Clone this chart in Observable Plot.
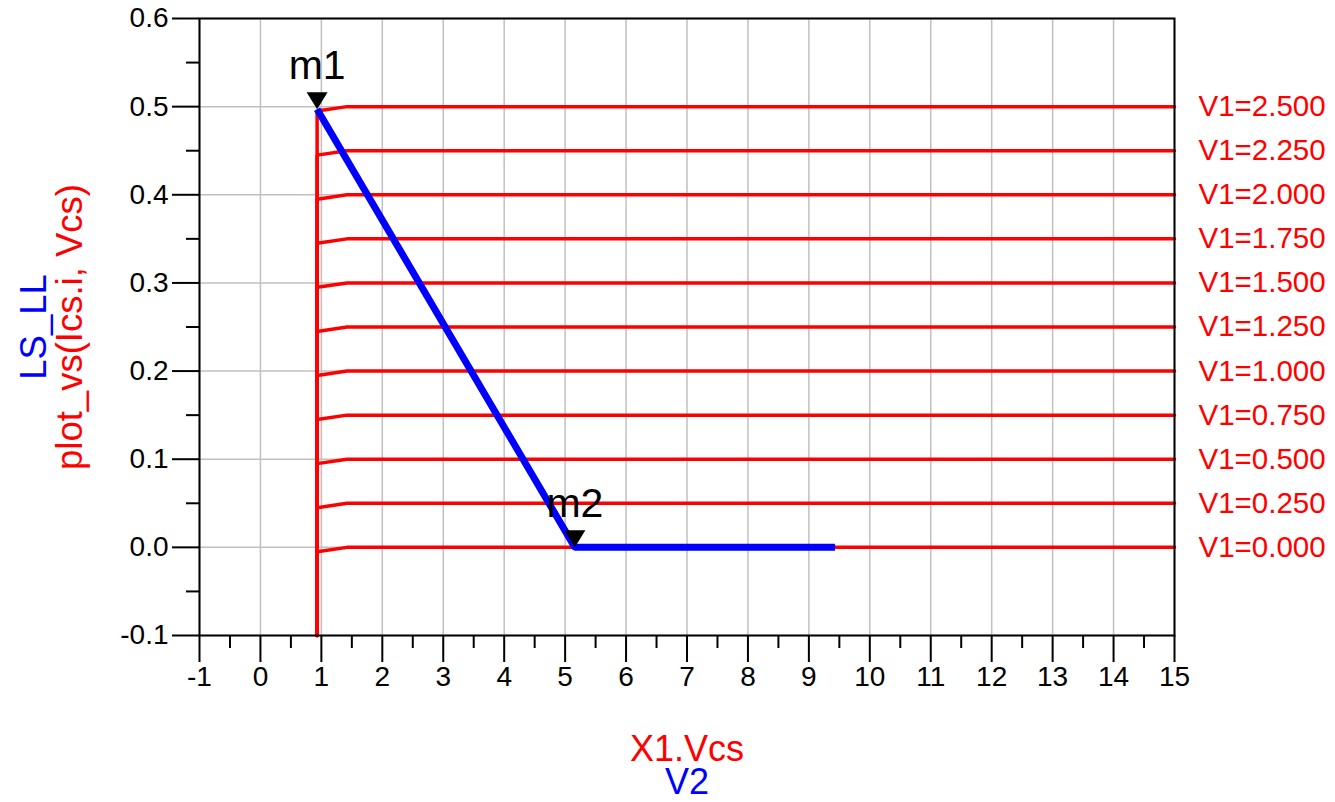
<!DOCTYPE html>
<html><head><meta charset="utf-8">
<script src="https://cdn.jsdelivr.net/npm/d3@7"></script>
<script src="https://cdn.jsdelivr.net/npm/@observablehq/plot@0.6"></script>
<style>body{margin:0;background:#fff;}</style>
</head><body><div id="chart"></div>
<script>
// ---- data ----
const v1Labels = ["V1=0.000","V1=0.250","V1=0.500","V1=0.750","V1=1.000","V1=1.250","V1=1.500","V1=1.750","V1=2.000","V1=2.250","V1=2.500"];
const icsLevels = [0, 0.05, 0.10, 0.15, 0.20, 0.25, 0.30, 0.35, 0.40, 0.45, 0.50];
const sweepVcs = [0.93, 0.93, 1.42, 15];          // X1.Vcs points of each sweep curve
const sweepIcsFloor = -0.1;                        // curve starts at bottom
const sweepKneeDip = [0, -0.005, 0, 0];            // small dip before knee
const loadVcs = [0.93, 5.16, 9.43];
const loadIcs = [0.497, 0.0, 0.0];
const markerNames = ["m1", "m2"];
const markerVcs = [0.93, 5.16];
const markerIcs = [0.497, 0.0];
const xTicks = [-1,0,1,2,3,4,5,6,7,8,9,10,11,12,13,14,15];
const xMinorTicks = [-0.5,0.5,1.5,2.5,3.5,4.5,5.5,6.5,7.5,8.5,9.5,10.5,11.5,12.5,13.5,14.5];
const yTicks = [-0.1,0,0.1,0.2,0.3,0.4,0.5,0.6];
const yMinorTicks = [-0.05,0.05,0.15,0.25,0.35,0.45,0.55];
const xTitle1 = "X1.Vcs", xTitle2 = "V2";
const yTitle1 = "LS_LL", yTitle2 = "plot_vs(Ics.i, Vcs)";

// ---- build tables ----
const curves = [];
icsLevels.forEach((L, i) => {
  sweepVcs.forEach((x, j) => {
    curves.push({curve: v1Labels[i], x, y: j === 0 ? sweepIcsFloor : L + sweepKneeDip[j]});
  });
});
const load = loadVcs.map((x, i) => ({x, y: loadIcs[i]}));
const markers = markerNames.map((name, i) => ({name, x: markerVcs[i], y: markerIcs[i]}));
const rightLabels = v1Labels.map((t, i) => ({t, y: icsLevels[i]}));

const downTriangle = {
  draw(ctx) {
    ctx.moveTo(0, 0);
    ctx.lineTo(-10.5, -17);
    ctx.lineTo(10.5, -17);
    ctx.closePath();
  }
};

const RED = "#ff0000", BLUE = "#0000ff";
const tickX = Plot.axisTickX ? Plot.axisTickX : (d, o) => Plot.axisX(d, {...o, tickFormat: () => ""});
const tickY = Plot.axisTickY ? Plot.axisTickY : (d, o) => Plot.axisY(d, {...o, tickFormat: () => ""});

const chart = Plot.plot({
  width: 1335,
  height: 802,
  marginLeft: 199,
  marginRight: 161,
  marginTop: 18,
  marginBottom: 167,
  style: {fontFamily: "'Liberation Sans', Arial, sans-serif", fontSize: "28px", color: "black", background: "white"},
  x: {domain: [-1, 15], label: null},
  y: {domain: [-0.1, 0.6], label: null},
  marks: [
    Plot.gridX(xTicks, {stroke: "#c0c0c0", strokeOpacity: 1, strokeWidth: 1.5}),
    Plot.gridY(yTicks, {stroke: "#c0c0c0", strokeOpacity: 1, strokeWidth: 1.5}),
    Plot.line(curves, {x: "x", y: "y", z: "curve", stroke: RED, strokeWidth: 3.5, strokeLinejoin: "miter"}),
    Plot.line(load, {x: "x", y: "y", stroke: BLUE, strokeWidth: 7, strokeLinejoin: "miter", strokeLinecap: "butt"}),
    Plot.frame({stroke: "black", strokeWidth: 2}),
    Plot.axisX(xTicks, {anchor: "bottom", tickSize: 27, tickPadding: 4, strokeWidth: 2, tickFormat: d => String(d), label: null, fontSize: 28}),
    tickX(xMinorTicks, {anchor: "bottom", tickSize: 13, strokeWidth: 2, label: null}),
    Plot.axisY(yTicks, {anchor: "left", tickSize: 27, tickPadding: 4, strokeWidth: 2, tickFormat: d => d.toFixed(1), label: null, fontSize: 28}),
    tickY(yMinorTicks, {anchor: "left", tickSize: 13, strokeWidth: 2, label: null}),
    Plot.dot(markers, {x: "x", y: "y", symbol: downTriangle, fill: "black", stroke: null}),
    Plot.text(markers, {x: "x", y: "y", text: "name", fontSize: 41, lineAnchor: "bottom", dy: -30, fill: "black"}),
    Plot.text(rightLabels, {x: 15, y: "y", text: "t", textAnchor: "start", lineAnchor: "middle", dx: 24, fill: RED, fontSize: 29.5, clip: false}),
    Plot.text([xTitle1], {frameAnchor: "bottom", text: d => d, textAnchor: "middle", lineAnchor: "bottom", dy: 125, fill: RED, fontSize: 36}),
    Plot.text([xTitle2], {frameAnchor: "bottom", text: d => d, textAnchor: "middle", lineAnchor: "bottom", dy: 158, fill: BLUE, fontSize: 36}),
    Plot.text([yTitle1], {frameAnchor: "left", text: d => d, rotate: -90, textAnchor: "middle", lineAnchor: "bottom", dx: -154, fill: BLUE, fontSize: 36.5}),
    Plot.text([yTitle2], {frameAnchor: "left", text: d => d, rotate: -90, textAnchor: "middle", lineAnchor: "bottom", dx: -118, fill: RED, fontSize: 36.5})
  ]
});
document.getElementById("chart").appendChild(chart);
</script>
</body></html>
